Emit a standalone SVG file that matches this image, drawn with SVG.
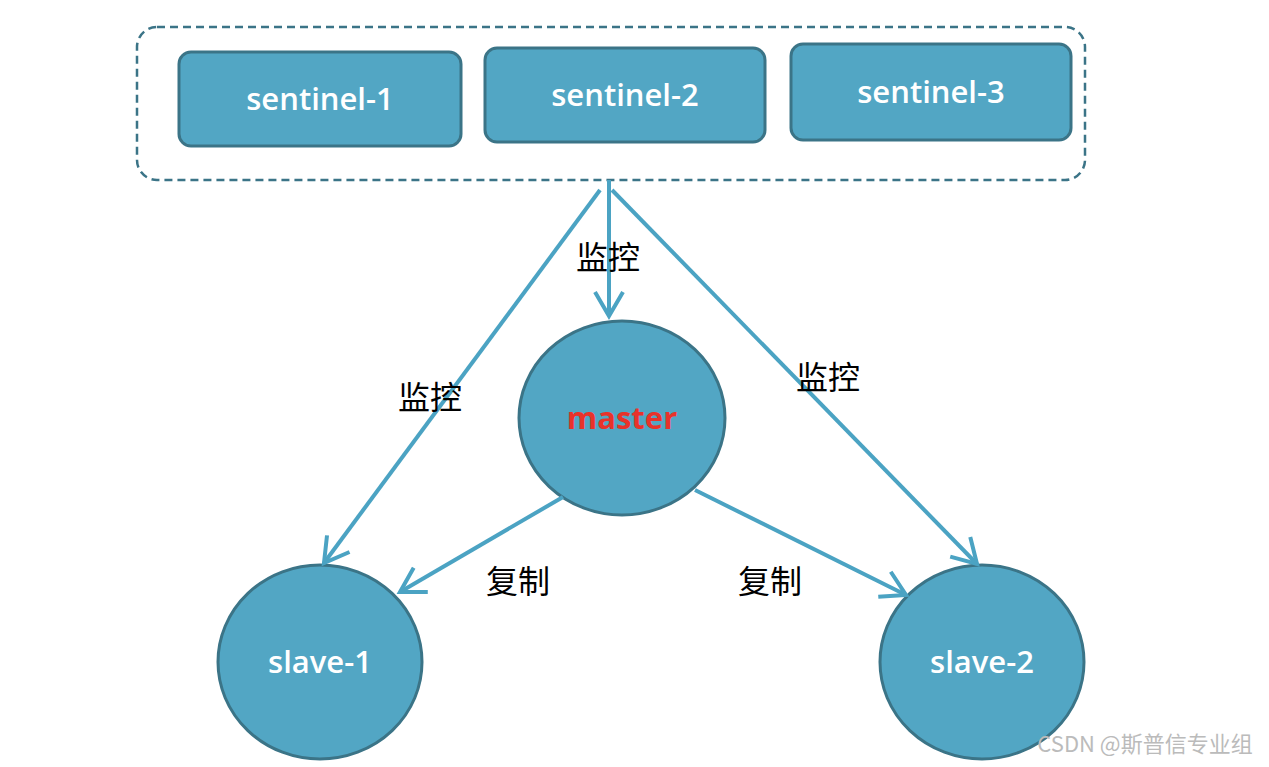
<svg xmlns="http://www.w3.org/2000/svg" width="1269" height="767" viewBox="0 0 1269 767">
<style>
.n{fill:#52A6C4;stroke:#3B7487;stroke-width:3}
.t{font-family:"Open Sans","Liberation Sans",sans-serif;font-size:31px;font-weight:600;fill:#fff;text-anchor:middle}
.l{font-family:"Noto Sans CJK SC",sans-serif;font-size:32px;fill:#000;text-anchor:middle}
.c{stroke:#4BA3C3;stroke-width:4;fill:none;marker-end:url(#a)}
</style>
<defs><marker id="a" markerWidth="8" markerHeight="8" refX="7" refY="4" orient="auto" markerUnits="strokeWidth"><path d="M1,0.5 L7,4 L1,7.5" fill="none" stroke="#4BA3C3" stroke-width="1"/></marker></defs>
<rect width="1269" height="767" fill="#fff"/>
<rect x="137" y="27" width="948" height="153" rx="20" fill="none" stroke="#3B7487" stroke-width="2.5" stroke-dasharray="8,5"/>
<g id="sentinel-1"><rect class="n" x="179" y="52" width="282" height="94" rx="12"/><text class="t" x="320" y="110">sentinel-1</text></g>
<g id="sentinel-2"><rect class="n" x="485" y="48" width="280" height="94" rx="12"/><text class="t" x="625" y="106">sentinel-2</text></g>
<g id="sentinel-3"><rect class="n" x="791" y="44" width="280" height="96" rx="12"/><text class="t" x="931" y="103">sentinel-3</text></g>
<g id="master"><ellipse class="n" cx="622" cy="418" rx="103" ry="97"/><text x="622" y="429" text-anchor="middle" font-family="Open Sans,Liberation Sans,sans-serif" font-weight="bold" font-size="31" fill="#E8322B">master</text></g>
<g id="slave-1"><ellipse class="n" cx="320" cy="662" rx="102" ry="97"/><text class="t" x="320" y="673">slave-1</text></g>
<g id="slave-2"><ellipse class="n" cx="982" cy="662" rx="102" ry="97"/><text class="t" x="982" y="673">slave-2</text></g>
<g id="connectors">
<line class="c" x1="600" y1="190" x2="324" y2="563"/>
<line class="c" x1="609" y1="180" x2="609" y2="316"/>
<line class="c" x1="612" y1="190" x2="977" y2="564"/>
<line class="c" x1="563" y1="497" x2="400" y2="592"/>
<line class="c" x1="695" y1="490" x2="906" y2="595"/>
</g>
<text class="l" x="608" y="269">监控</text>
<text class="l" x="430" y="409">监控</text>
<text class="l" x="828" y="389">监控</text>
<text class="l" x="518" y="593">复制</text>
<text class="l" x="770" y="593">复制</text>
<text x="1145" y="752" text-anchor="middle" font-family="Noto Sans CJK SC,sans-serif" font-size="22" fill="#bbb">CSDN @斯普信专业组</text>
</svg>
